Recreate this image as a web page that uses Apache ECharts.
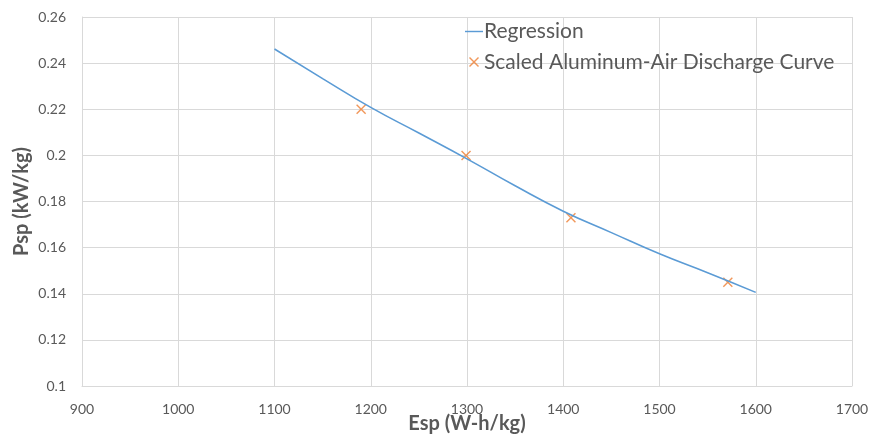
<!DOCTYPE html>
<html>
<head>
<meta charset="utf-8">
<script src="https://cdn.jsdelivr.net/npm/echarts@6/dist/echarts.min.js"></script>
<style>
  html, body { margin: 0; padding: 0; background: #fff; }
  #chart { width: 872px; height: 436px; }
</style>
</head>
<body>
<div id="chart"></div>
<script>
// regression curve
const regEsp = [1100, 1150, 1200, 1250, 1300, 1350, 1400, 1450, 1500, 1550, 1600];
const regPsp = [0.2461, 0.2333, 0.2208, 0.2097, 0.1985, 0.1868, 0.1758, 0.1665, 0.1573, 0.1491, 0.1406];

// scaled discharge curve points
const dataEsp = [1190, 1299, 1408, 1571];
const dataPsp = [0.220, 0.200, 0.173, 0.145];

const xTicks = [900, 1700, 100];
const yTicks = [0.1, 0.26, 0.02];

const font = "Lato, 'Open Sans', sans-serif";
const crossPath = "path://M0,1 L1,0 L5,4 L9,0 L10,1 L6,5 L10,9 L9,10 L5,6 L1,10 L0,9 L4,5 Z";
// same cross, padded out to an 18x24 legend box with two tiny corner specks
const crossLegend = "path://M0,0 L0.01,0 L0,0.01 Z M18,24 L17.99,24 L18,23.99 Z " +
  "M4,8 L5,7 L9,11 L13,7 L14,8 L10,12 L14,16 L13,17 L9,13 L5,17 L4,16 L8,12 Z";

const chart = echarts.init(document.getElementById("chart"));

chart.setOption({
  animation: false,
  textStyle: { fontFamily: font },
  grid: { left: 82, right: 20, top: 17, bottom: 50, outerBoundsMode: "none" },
  legend: {
    orient: "vertical",
    left: 460,
    top: 16,
    itemGap: 8,
    itemWidth: 18,
    itemHeight: 24,
    textStyle: { fontFamily: font, fontSize: 21, color: "#595959", padding: [0, 0, 0, -4] },
    data: [
      { name: "Regression", icon: "path://M0,0 L20,0 L20,1.6 L0,1.6 Z" },
      { name: "Scaled Aluminum-Air Discharge Curve", icon: crossLegend }
    ]
  },
  xAxis: {
    type: "value",
    min: xTicks[0],
    max: xTicks[1],
    interval: xTicks[2],
    name: "Esp (W-h/kg)",
    nameLocation: "middle",
    nameGap: 28,
    nameMoveOverlap: false,
    nameTextStyle: { fontFamily: font, fontSize: 20, fontWeight: "bold", color: "#595959" },
    axisLine: { show: true, lineStyle: { color: "#d9d9d9" } },
    axisTick: { show: false },
    axisLabel: { color: "#595959", fontSize: 14, margin: 16, formatter: (v) => String(v) },
    splitLine: { show: true, lineStyle: { color: "#d9d9d9" } }
  },
  yAxis: {
    type: "value",
    min: yTicks[0],
    max: yTicks[1],
    interval: yTicks[2],
    name: "Psp (kW/kg)",
    nameLocation: "middle",
    nameGap: 50,
    nameMoveOverlap: false,
    nameTextStyle: { fontFamily: font, fontSize: 20, fontWeight: "bold", color: "#595959" },
    axisLine: { show: true, lineStyle: { color: "#d9d9d9" } },
    axisTick: { show: false },
    axisLabel: {
      color: "#595959",
      fontSize: 14,
      margin: 16,
      formatter: (v) => String(Number(v.toFixed(2)))
    },
    splitLine: { show: true, lineStyle: { color: "#d9d9d9" } }
  },
  series: [
    {
      name: "Regression",
      type: "line",
      data: regEsp.map((x, i) => [x, regPsp[i]]),
      smooth: true,
      showSymbol: false,
      symbol: "none",
      lineStyle: { color: "#5b9bd5", width: 1.6 },
      itemStyle: { color: "#5b9bd5" }
    },
    {
      name: "Scaled Aluminum-Air Discharge Curve",
      type: "scatter",
      data: dataEsp.map((x, i) => [x, dataPsp[i]]),
      symbol: crossPath,
      symbolSize: 10,
      itemStyle: { color: "#ed7d31" }
    }
  ]
});
</script>
</body>
</html>
